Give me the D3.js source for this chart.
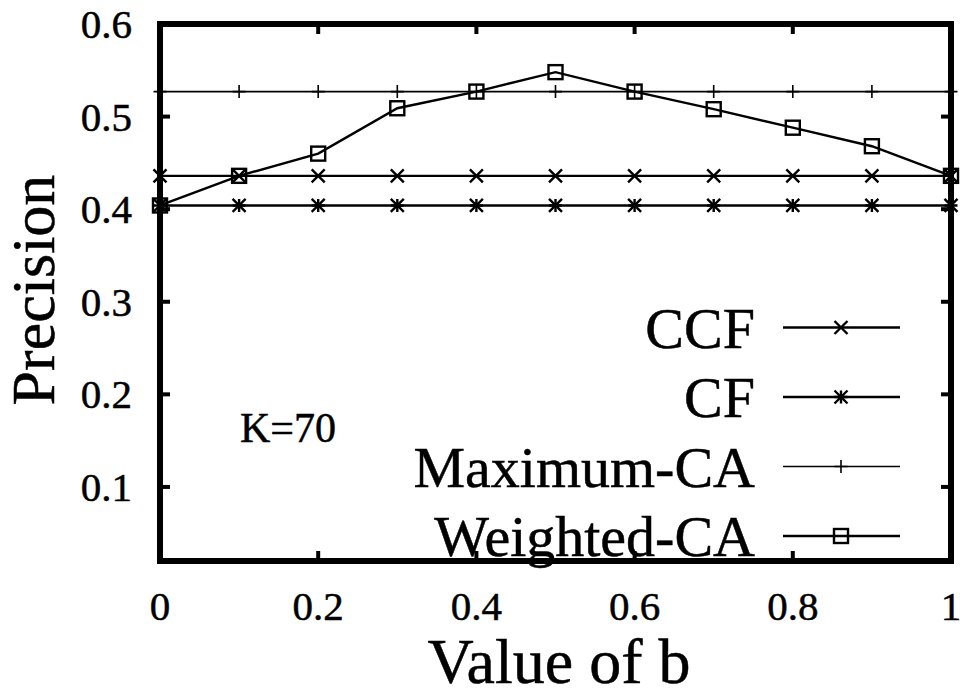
<!DOCTYPE html>
<html>
<head>
<meta charset="utf-8">
<script src="https://cdn.jsdelivr.net/npm/d3@7"></script>
<style>
  html, body { margin: 0; padding: 0; background: #fff; }
  text { font-family: 'Liberation Serif', 'Times New Roman', serif; fill: #000; stroke: #000; stroke-width: 0.5; }
</style>
</head>
<body>
<div id="chart"></div>
<script>
const bValues = [0, 0.1, 0.2, 0.3, 0.4, 0.5, 0.6, 0.7, 0.8, 0.9, 1.0];
const ccf = [0.436, 0.436, 0.436, 0.436, 0.436, 0.436, 0.436, 0.436, 0.436, 0.436, 0.436];
const cf = [0.404, 0.404, 0.404, 0.404, 0.404, 0.404, 0.404, 0.404, 0.404, 0.404, 0.404];
const maximumCA = [0.527, 0.527, 0.527, 0.527, 0.527, 0.527, 0.527, 0.527, 0.527, 0.527, 0.527];
const weightedCA = [0.404, 0.436, 0.46, 0.509, 0.527, 0.548, 0.527, 0.508, 0.488, 0.468, 0.436];
const xTicks = [0, 0.2, 0.4, 0.6, 0.8, 1];
const yTicks = [0.1, 0.2, 0.3, 0.4, 0.5, 0.6];

const series = [
  { name: 'CCF', values: ccf, marker: 'cross', width: 2.4 },
  { name: 'CF', values: cf, marker: 'star', width: 2.4 },
  { name: 'Maximum-CA', values: maximumCA, marker: 'plus', width: 1.6 },
  { name: 'Weighted-CA', values: weightedCA, marker: 'square', width: 2.4 },
];

const W = 966, H = 698;
const plotLeft = 160, plotRight = 951, plotTop = 24, plotBottom = 561;

const x = d3.scaleLinear().domain([0, 1]).range([plotLeft, plotRight]);
const y = d3.scaleLinear().domain([0.02, 0.6]).range([plotBottom, plotTop]);

const svg = d3.select('#chart').append('svg').attr('width', W).attr('height', H);

// gnuplot-like point types
function drawMarker(g, type, cx, cy) {
  const s = 6.5;
  if (type === 'cross' || type === 'star') {
    g.append('path')
      .attr('d', `M${cx - s},${cy - s}L${cx + s},${cy + s}M${cx - s},${cy + s}L${cx + s},${cy - s}`)
      .attr('stroke', '#000').attr('stroke-width', 2.4).attr('fill', 'none');
  }
  if (type === 'star' || type === 'plus') {
    g.append('path')
      .attr('d', `M${cx},${cy - s}L${cx},${cy + s}M${cx - s},${cy}L${cx + s},${cy}`)
      .attr('stroke', '#000').attr('stroke-width', type === 'star' ? 2.4 : 1.6).attr('fill', 'none');
  }
  if (type === 'square') {
    g.append('rect')
      .attr('x', cx - 7).attr('y', cy - 7).attr('width', 14).attr('height', 14)
      .attr('stroke', '#000').attr('stroke-width', 2.4).attr('fill', 'none');
  }
}

const line = d3.line().x((d, i) => x(bValues[i])).y(d => y(d));

series.forEach(s => {
  const g = svg.append('g');
  g.append('path')
    .datum(s.values)
    .attr('d', line)
    .attr('fill', 'none')
    .attr('stroke', '#000')
    .attr('stroke-width', s.width);
  s.values.forEach((v, i) => drawMarker(g, s.marker, x(bValues[i]), y(v)));
});

// frame
svg.append('rect')
  .attr('x', plotLeft).attr('y', plotTop)
  .attr('width', plotRight - plotLeft).attr('height', plotBottom - plotTop)
  .attr('fill', 'none').attr('stroke', '#000').attr('stroke-width', 6);

// ticks (mirrored on top / right)
const tl = 10;
xTicks.forEach(t => {
  svg.append('line').attr('x1', x(t)).attr('x2', x(t)).attr('y1', plotBottom).attr('y2', plotBottom - tl)
    .attr('stroke', '#000').attr('stroke-width', 4);
  svg.append('line').attr('x1', x(t)).attr('x2', x(t)).attr('y1', plotTop).attr('y2', plotTop + tl)
    .attr('stroke', '#000').attr('stroke-width', 4);
  svg.append('text')
    .attr('x', x(t)).attr('y', 620)
    .attr('text-anchor', 'middle')
    .attr('font-size', 41)
    .text(t === 0 ? '0' : t === 1 ? '1' : d3.format('.1f')(t));
});

yTicks.forEach(t => {
  svg.append('line').attr('x1', plotLeft).attr('x2', plotLeft + tl).attr('y1', y(t)).attr('y2', y(t))
    .attr('stroke', '#000').attr('stroke-width', 4);
  svg.append('line').attr('x1', plotRight).attr('x2', plotRight - tl).attr('y1', y(t)).attr('y2', y(t))
    .attr('stroke', '#000').attr('stroke-width', 4);
  svg.append('text')
    .attr('x', 132).attr('y', y(t) + 14)
    .attr('text-anchor', 'end')
    .attr('font-size', 41)
    .text(d3.format('.1f')(t));
});

// axis titles
svg.append('text')
  .attr('x', 559).attr('y', 683)
  .attr('text-anchor', 'middle')
  .attr('font-size', 64)
  .text('Value of b');

svg.append('text')
  .attr('transform', 'translate(54,290) rotate(-90)')
  .attr('text-anchor', 'middle')
  .attr('font-size', 62)
  .text('Precision');

svg.append('text')
  .attr('x', 240).attr('y', 442)
  .attr('font-size', 42)
  .text('K=70');

// legend
const legendY = d3.scaleLinear().domain([0, 3]).range([327.5, 536]);
series.forEach((s, i) => {
  const ly = legendY(i);
  svg.append('text')
    .attr('x', 755).attr('y', ly + 20)
    .attr('text-anchor', 'end')
    .attr('font-size', 58)
    .text(s.name);
  svg.append('line')
    .attr('x1', 783).attr('x2', 900).attr('y1', ly).attr('y2', ly)
    .attr('stroke', '#000').attr('stroke-width', s.width);
  drawMarker(svg, s.marker, 841, ly);
});
</script>
</body>
</html>
